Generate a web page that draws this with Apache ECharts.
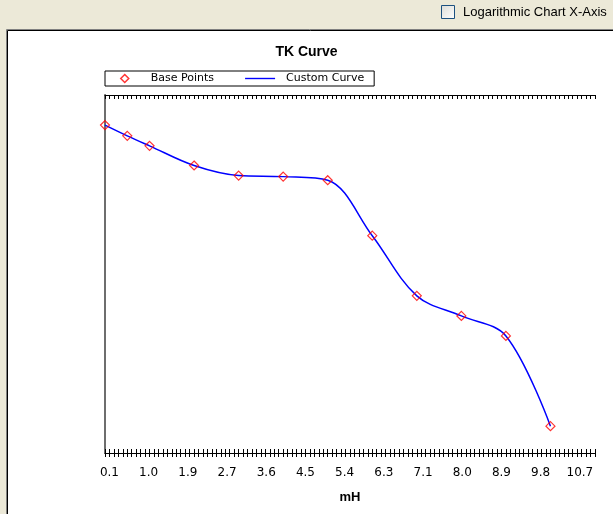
<!DOCTYPE html>
<html>
<head>
<meta charset="utf-8">
<script src="https://cdn.jsdelivr.net/npm/echarts@6/dist/echarts.min.js"></script>
<style>
  html, body { margin: 0; padding: 0; background: #ECE9D8; }
  #main { width: 613px; height: 514px; }
</style>
</head>
<body>
<div id="main"></div>
<script>
// base points (x in mH, y in chart units 0..100)
const baseX = [0, 0.5, 1, 2, 3, 4, 5, 6, 7, 8, 9, 10];
const baseY = [91.6, 88.6, 85.8, 80.3, 77.5, 77.2, 76.2, 60.7, 43.9, 38.3, 32.7, 7.5];

// x axis labels and where they sit
const xTickValues = [0.1, 0.98, 1.86, 2.74, 3.62, 4.5, 5.38, 6.26, 7.14, 8.02, 8.9, 9.78, 10.66];
const xTickLabels = ['0.1', '1.0', '1.9', '2.7', '3.6', '4.5', '5.4', '6.3', '7.1', '8.0', '8.9', '9.8', '10.7'];

const points = baseX.map((x, i) => [x, baseY[i]]);

const myChart = echarts.init(document.getElementById('main'));

const X_MIN = 0, X_MAX = 11;
const baseFont = 'DejaVu Sans';

function labelFor(v) {
    let best = 0;
    for (let i = 1; i < xTickValues.length; i++) {
        if (Math.abs(xTickValues[i] - v) < Math.abs(xTickValues[best] - v)) best = i;
    }
    return xTickLabels[best];
}

// legend icons drawn in a 36x8 box so they keep their place
const diamondIcon = 'path://M0,0M36,8M15,0L19,4L15,8L11,4Z';
const lineIcon = 'path://M0,0M36,8M0,3.3L30,3.3L30,4.7L0,4.7Z';

myChart.setOption({
    animation: false,
    backgroundColor: '#ECE9D8',
    title: {
        text: 'TK Curve',
        left: 'center',
        top: 40,
        textStyle: { fontFamily: 'Liberation Sans', fontSize: 14, fontWeight: 'bold', color: '#000' }
    },
    legend: {
        left: 105,
        top: 71,
        padding: [2, 10, 2, 4],
        backgroundColor: '#fff',
        borderColor: '#000',
        borderWidth: 1,
        borderRadius: 0,
        itemWidth: 36,
        itemHeight: 8,
        itemGap: 31,
        symbolKeepAspect: true,
        textStyle: { fontFamily: baseFont, fontSize: 11, color: '#000' },
        data: [
            {
                name: 'Base Points',
                icon: diamondIcon,
                itemStyle: { color: 'rgba(255,255,255,0)', borderColor: '#ff0000', borderWidth: 1.5 }
            },
            {
                name: 'Custom Curve',
                icon: lineIcon,
                itemStyle: { color: '#0000ff', borderWidth: 0 }
            }
        ]
    },
    grid: {
        left: 105,
        right: 18,
        top: 95,
        bottom: 61,
        outerBoundsMode: 'none',
        show: false
    },
    xAxis: [
        {
            type: 'value',
            min: X_MIN,
            max: X_MAX,
            interval: 0.1,
            position: 'bottom',
            name: 'mH',
            nameLocation: 'middle',
            nameGap: 38,
            nameTextStyle: { fontFamily: 'Liberation Sans', fontSize: 13, fontWeight: 'bold', color: '#000' },
            axisLine: { lineStyle: { color: '#000', width: 1 } },
            axisTick: { inside: true, length: 4, lineStyle: { color: '#000' } },
            splitLine: { show: false },
            axisLabel: {
                customValues: xTickValues,
                formatter: labelFor,
                margin: 14,
                fontFamily: baseFont,
                fontSize: 12,
                color: '#000'
            }
        },
        {
            type: 'value',
            min: X_MIN,
            max: X_MAX,
            interval: 0.1,
            position: 'bottom',
            axisLine: { show: false },
            axisTick: { inside: false, length: 4, lineStyle: { color: '#000' } },
            axisLabel: { show: false },
            splitLine: { show: false }
        },
        {
            type: 'value',
            min: X_MIN,
            max: X_MAX,
            interval: 0.1,
            position: 'top',
            axisLine: { lineStyle: { color: '#000', width: 1 } },
            axisTick: { inside: true, length: 4, lineStyle: { color: '#000' } },
            axisLabel: { show: false },
            splitLine: { show: false }
        }
    ],
    yAxis: [
        {
            type: 'value',
            min: 0,
            max: 100,
            position: 'left',
            axisLine: { show: true, lineStyle: { color: '#000', width: 1 } },
            axisTick: { show: false },
            axisLabel: { show: false },
            splitLine: { show: false }
        },
        {
            type: 'value',
            min: 0,
            max: 100,
            position: 'right',
            axisLine: { show: true, lineStyle: { color: '#6e6e6e', width: 2 } },
            axisTick: { show: false },
            axisLabel: { show: false },
            splitLine: { show: false }
        }
    ],
    graphic: {
        elements: [
            { type: 'rect', z: -10, shape: { x: 7, y: 30, width: 620, height: 500 }, style: { fill: '#fff' } },
            { type: 'line', z: -9, shape: { x1: 6.5, y1: 29.5, x2: 613, y2: 29.5 }, style: { stroke: '#808080', lineWidth: 1 } },
            { type: 'line', z: -9, shape: { x1: 6.5, y1: 29.5, x2: 6.5, y2: 514 }, style: { stroke: '#808080', lineWidth: 1 } },
            { type: 'line', z: -9, shape: { x1: 7.5, y1: 30.5, x2: 613, y2: 30.5 }, style: { stroke: '#000', lineWidth: 1 } },
            { type: 'line', z: -9, shape: { x1: 7.5, y1: 30.5, x2: 7.5, y2: 514 }, style: { stroke: '#000', lineWidth: 1 } },
            {
                type: 'rect', z: 5, shape: { x: 441.5, y: 5.5, width: 13, height: 13 },
                style: {
                    fill: new echarts.graphic.LinearGradient(0, 0, 1, 1, [
                        { offset: 0, color: '#dcdcd6' }, { offset: 1, color: '#ffffff' }
                    ]),
                    stroke: '#1C5180', lineWidth: 1
                }
            },
            {
                type: 'text', z: 5, x: 463, y: 12,
                style: {
                    text: 'Logarithmic Chart X-Axis',
                    fontFamily: 'Liberation Sans', fontSize: 13, fill: '#000',
                    verticalAlign: 'middle'
                }
            }
        ]
    },
    series: [
        {
            name: 'Custom Curve',
            type: 'line',
            data: points,
            smooth: 0.35,
            symbol: 'none',
            lineStyle: { color: '#0000ff', width: 1.5 },
            itemStyle: { color: '#0000ff' },
            z: 2
        },
        {
            name: 'Base Points',
            type: 'scatter',
            data: points,
            symbol: 'diamond',
            symbolSize: 9,
            itemStyle: { color: 'rgba(255,255,255,0)', borderColor: '#ff0000', borderWidth: 1.2 },
            z: 3
        }
    ]
});
</script>
</body>
</html>
